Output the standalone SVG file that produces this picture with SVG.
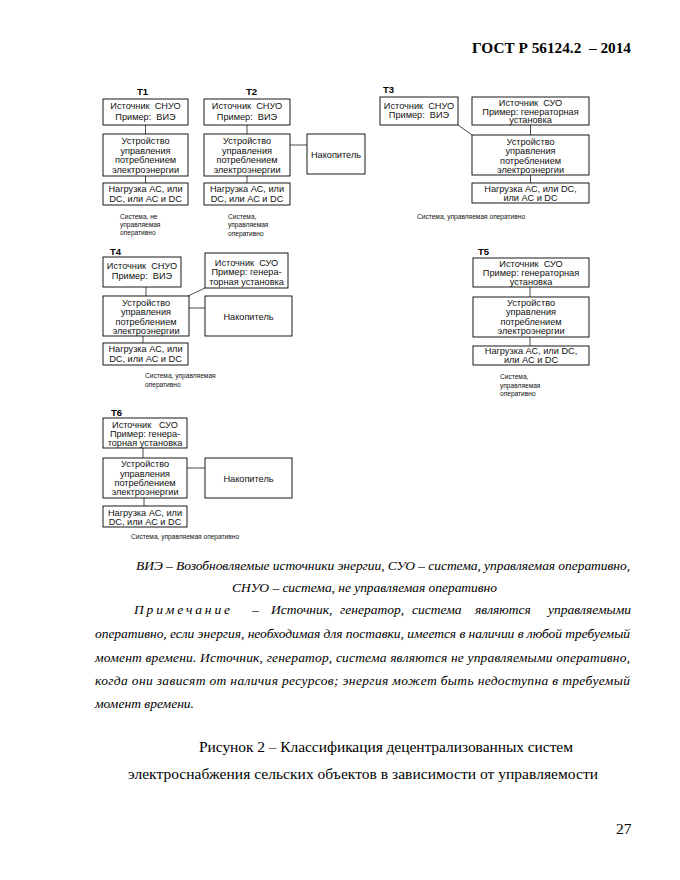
<svg xmlns="http://www.w3.org/2000/svg" width="680" height="880" viewBox="0 0 680 880">
<style>
.bg{fill:#fff}
.box{fill:none;stroke:#000;stroke-width:0.9}
.ln{fill:none;stroke:#000;stroke-width:0.7}
.t{font-family:"Liberation Sans",Arial,sans-serif;font-size:9.2px;fill:#111;text-anchor:middle;white-space:pre}
.lbl{font-family:"Liberation Sans",Arial,sans-serif;font-size:9.5px;font-weight:bold;fill:#000}
.cap{font-family:"Liberation Sans",Arial,sans-serif;font-size:6.6px;fill:#111}
.it{font-family:"Liberation Serif","Times New Roman",serif;font-size:13.5px;font-style:italic;fill:#000}
.fig{font-family:"Liberation Serif","Times New Roman",serif;font-size:15.5px;fill:#000}
.hdr{font-family:"Liberation Serif","Times New Roman",serif;font-size:15px;font-weight:bold;fill:#000;white-space:pre}
</style>
<rect class="bg" x="0" y="0" width="680" height="880"/>

<text class="hdr" x="472" y="53" textLength="159" lengthAdjust="spacingAndGlyphs">ГОСТ Р 56124.2  – 2014</text>

<!-- T1 -->
<g id="T1">
<text class="lbl" x="137" y="95">Т1</text>
<g id="T1-src"><rect class="box" x="103" y="99" width="85" height="26"/>
<text class="t" x="145.5" y="109">Источник  СНУО</text><text class="t" x="145.5" y="119.5">Пример:  ВИЭ</text></g>
<g id="T1-dev"><rect class="box" x="103" y="134" width="85" height="42"/>
<text class="t" x="145.5" y="144">Устройство</text><text class="t" x="145.5" y="153.5">управления</text><text class="t" x="145.5" y="163">потреблением</text><text class="t" x="145.5" y="172.5">электроэнергии</text></g>
<g id="T1-load"><rect class="box" x="103" y="183" width="85" height="22"/>
<text class="t" x="145.5" y="192">Нагрузка АС, или</text><text class="t" x="145.5" y="201.5">DC, или АС и DC</text></g>
<text class="cap" x="120" y="218.5">Система, не</text><text class="cap" x="120" y="226.5">управляемая</text><text class="cap" x="120" y="235">оперативно</text>
</g>

<!-- T2 -->
<g id="T2">
<text class="lbl" x="246" y="95">Т2</text>
<g id="T2-src"><rect class="box" x="204" y="99" width="86" height="26"/>
<text class="t" x="247" y="109">Источник  СНУО</text><text class="t" x="247" y="119.5">Пример:  ВИЭ</text></g>
<g id="T2-dev"><rect class="box" x="204" y="134" width="86" height="42"/>
<text class="t" x="247" y="144">Устройство</text><text class="t" x="247" y="153.5">управления</text><text class="t" x="247" y="163">потреблением</text><text class="t" x="247" y="172.5">электроэнергии</text></g>
<g id="T2-load"><rect class="box" x="204" y="183" width="86" height="22"/>
<text class="t" x="247" y="192">Нагрузка АС, или</text><text class="t" x="247" y="201.5">DC, или АС и DC</text></g>
<g id="T2-stor"><rect class="box" x="307" y="134" width="58" height="40"/>
<text class="t" x="336" y="157.5">Накопитель</text></g>
<text class="cap" x="228" y="218.5">Система,</text><text class="cap" x="228" y="227">управляемая</text><text class="cap" x="228" y="235.5">оперативно</text>
</g>

<!-- T3 -->
<g id="T3">
<text class="lbl" x="383" y="92.5">Т3</text>
<g id="T3-src1"><rect class="box" x="380" y="97" width="78" height="28"/>
<text class="t" x="419" y="108.5">Источник  СНУО</text><text class="t" x="419" y="118">Пример:  ВИЭ</text></g>
<g id="T3-src2"><rect class="box" x="472" y="97" width="117" height="28"/>
<text class="t" x="530.5" y="105.5">Источник  СУО</text><text class="t" x="530.5" y="114.5">Пример: генераторная</text><text class="t" x="530.5" y="123">установка</text></g>
<g id="T3-dev"><rect class="box" x="472" y="135" width="117" height="40"/>
<text class="t" x="530.5" y="145">Устройство</text><text class="t" x="530.5" y="154">управления</text><text class="t" x="530.5" y="163.5">потреблением</text><text class="t" x="530.5" y="172.5">электроэнергии</text></g>
<g id="T3-load"><rect class="box" x="472" y="183" width="117" height="20"/>
<text class="t" x="530.5" y="191.5">Нагрузка АС, или DC,</text><text class="t" x="530.5" y="200.5">или АС и DC</text></g>
<text class="cap" x="417" y="219">Система, управляемая оперативно</text>
</g>

<!-- T4 -->
<g id="T4">
<text class="lbl" x="110" y="255">Т4</text>
<g id="T4-src1"><rect class="box" x="103" y="257" width="78" height="30"/>
<text class="t" x="142" y="269">Источник  СНУО</text><text class="t" x="142" y="278.5">Пример:  ВИЭ</text></g>
<g id="T4-src2"><rect class="box" x="205" y="253" width="83" height="35"/>
<text class="t" x="246.5" y="265.5">Источник  СУО</text><text class="t" x="246.5" y="275">Пример: генера-</text><text class="t" x="246.5" y="284.5">торная установка</text></g>
<g id="T4-dev"><rect class="box" x="103" y="296" width="86" height="40"/>
<text class="t" x="146" y="305.5">Устройство</text><text class="t" x="146" y="315">управления</text><text class="t" x="146" y="324.5">потреблением</text><text class="t" x="146" y="333.5">электроэнергии</text></g>
<g id="T4-stor"><rect class="box" x="205" y="296" width="87" height="40"/>
<text class="t" x="248.5" y="319.5">Накопитель</text></g>
<g id="T4-load"><rect class="box" x="103" y="343" width="85" height="22"/>
<text class="t" x="145.5" y="352">Нагрузка АС, или</text><text class="t" x="145.5" y="361.5">DC, или АС и DC</text></g>
<text class="cap" x="145" y="378">Система, управляемая</text><text class="cap" x="145" y="386.5">оперативно</text>
</g>

<!-- T5 -->
<g id="T5">
<text class="lbl" x="478" y="255">Т5</text>
<g id="T5-src"><rect class="box" x="473" y="258" width="116" height="29"/>
<text class="t" x="531" y="266.5">Источник  СУО</text><text class="t" x="531" y="275.5">Пример: генераторная</text><text class="t" x="531" y="284.5">установка</text></g>
<g id="T5-dev"><rect class="box" x="473" y="297" width="116" height="40"/>
<text class="t" x="531" y="306">Устройство</text><text class="t" x="531" y="315">управления</text><text class="t" x="531" y="324.5">потреблением</text><text class="t" x="531" y="333.5">электроэнергии</text></g>
<g id="T5-load"><rect class="box" x="473" y="346" width="116" height="19"/>
<text class="t" x="531" y="353.5">Нагрузка АС, или DC,</text><text class="t" x="531" y="362.5">или АС и DC</text></g>
<text class="cap" x="500" y="379">Система,</text><text class="cap" x="500" y="387.5">управляемая</text><text class="cap" x="500" y="396">оперативно</text>
</g>

<!-- T6 -->
<g id="T6">
<text class="lbl" x="111" y="416">Т6</text>
<g id="T6-src"><rect class="box" x="103" y="418" width="84" height="30"/>
<text class="t" x="145" y="427.5">Источник   СУО</text><text class="t" x="145" y="437">Пример: генера-</text><text class="t" x="145" y="446">торная установка</text></g>
<g id="T6-dev"><rect class="box" x="103" y="458" width="84" height="40"/>
<text class="t" x="145" y="467">Устройство</text><text class="t" x="145" y="476.5">управления</text><text class="t" x="145" y="485.5">потреблением</text><text class="t" x="145" y="494.5">электроэнергии</text></g>
<g id="T6-stor"><rect class="box" x="205" y="458" width="87" height="40"/>
<text class="t" x="248.5" y="481.5">Накопитель</text></g>
<g id="T6-load"><rect class="box" x="103" y="506" width="84" height="21"/>
<text class="t" x="145" y="515.5">Нагрузка АС, или</text><text class="t" x="145" y="524.5">DC, или АС и DC</text></g>
<text class="cap" x="131" y="539">Система, управляемая оперативно</text>
</g>

<!-- connectors -->
<g id="connectors" class="ln">
<line x1="145.5" y1="125" x2="145.5" y2="134"/>
<line x1="145.5" y1="176" x2="145.5" y2="183"/>
<line x1="247" y1="125" x2="247" y2="134"/>
<line x1="247" y1="176" x2="247" y2="183"/>
<line x1="290" y1="145" x2="307" y2="145"/>
<line x1="458" y1="125" x2="472" y2="135"/>
<line x1="530.5" y1="125" x2="530.5" y2="135"/>
<line x1="530.5" y1="175" x2="530.5" y2="183"/>
<line x1="146" y1="287" x2="146" y2="296"/>
<line x1="205" y1="288" x2="188" y2="296"/>
<line x1="189" y1="308" x2="205" y2="308"/>
<line x1="143" y1="336" x2="143" y2="343"/>
<line x1="530" y1="287" x2="530" y2="297"/>
<line x1="530" y1="337" x2="530" y2="346"/>
<line x1="143" y1="448" x2="143" y2="458"/>
<line x1="187" y1="468" x2="205" y2="468"/>
<line x1="144" y1="498" x2="144" y2="506"/>
</g>

<!-- legend and note -->
<g id="legend">
<text class="it" x="136" y="570" textLength="494" lengthAdjust="spacing">ВИЭ – Возобновляемые источники энергии, СУО – система, управляемая оперативно,</text>
<text class="it" x="232" y="592" textLength="265" lengthAdjust="spacing">СНУО – система, не управляемая оперативно</text>
<text class="it" x="134" y="614" textLength="96" lengthAdjust="spacing">Примечание</text>
<text class="it" x="252" y="614">–</text>
<text class="it" x="271" y="614">Источник,</text>
<text class="it" x="340" y="614">генератор,</text>
<text class="it" x="412" y="614">система</text>
<text class="it" x="475" y="614">являются</text>
<text class="it" x="548" y="614">управляемыми</text>
<text class="it" x="95" y="638" textLength="535" lengthAdjust="spacing">оперативно, если энергия, необходимая для поставки, имеется в наличии в любой требуемый</text>
<text class="it" x="95" y="662" textLength="535" lengthAdjust="spacing">момент времени. Источник, генератор, система являются не управляемыми оперативно,</text>
<text class="it" x="95" y="685" textLength="535" lengthAdjust="spacing">когда они зависят от наличия ресурсов; энергия может быть недоступна в требуемый</text>
<text class="it" x="95" y="708">момент времени.</text>
</g>

<g id="caption">
<text class="fig" x="199" y="752" textLength="374" lengthAdjust="spacing">Рисунок 2 – Классификация децентрализованных систем</text>
<text class="fig" x="128" y="779" textLength="470" lengthAdjust="spacing">электроснабжения сельских объектов в зависимости от управляемости</text>
<text class="fig" x="616" y="834">27</text>
</g>
</svg>
